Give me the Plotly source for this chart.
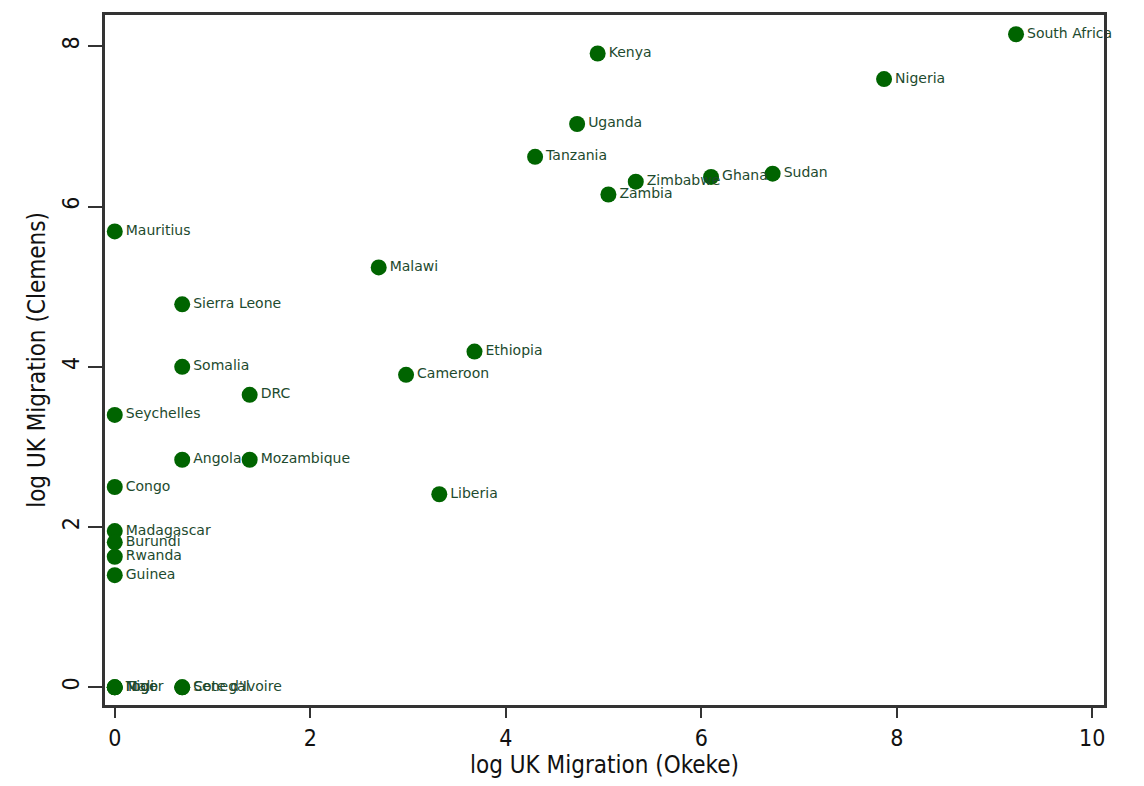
import plotly.graph_objects as go

# Log UK migration: Okeke (x) vs Clemens (y), by African country
countries = [
    "South Africa", "Kenya", "Nigeria", "Uganda", "Tanzania", "Zimbabwe", "Ghana",
    "Sudan", "Zambia", "Mauritius", "Malawi", "Sierra Leone", "Ethiopia", "Somalia",
    "Cameroon", "DRC", "Seychelles", "Angola", "Mozambique", "Congo", "Liberia",
    "Madagascar", "Burundi", "Rwanda", "Guinea", "Mali", "Niger", "Togo",
    "Cote d'Ivoire", "Senegal",
]
log_okeke = [
    9.22, 4.94, 7.87, 4.73, 4.30, 5.33, 6.10,
    6.73, 5.05, 0.0, 2.70, 0.69, 3.68, 0.69,
    2.98, 1.38, 0.0, 0.69, 1.38, 0.0, 3.32,
    0.0, 0.0, 0.0, 0.0, 0.0, 0.0, 0.0,
    0.69, 0.69,
]
log_clemens = [
    8.15, 7.91, 7.59, 7.03, 6.62, 6.31, 6.37,
    6.41, 6.15, 5.69, 5.24, 4.78, 4.19, 4.00,
    3.90, 3.65, 3.40, 2.84, 2.84, 2.50, 2.41,
    1.95, 1.81, 1.63, 1.40, 0.0, 0.0, 0.0,
    0.0, 0.0,
]

x_ticks = [0, 2, 4, 6, 8, 10]
y_ticks = [0, 2, 4, 6, 8]

marker_green = "#006400"
label_color = "#1d4a2e"
axis_color = "#333333"
font_family = "Liberation Sans Narrow, DejaVu Sans Condensed, Liberation Sans, sans-serif"

fig = go.Figure(
    go.Scatter(
        x=log_okeke,
        y=log_clemens,
        mode="markers+text",
        text=countries,
        textposition="middle right",
        textfont=dict(family="DejaVu Sans, sans-serif", size=14, color=label_color),
        marker=dict(size=16, color=marker_green, line=dict(width=0)),
        cliponaxis=False,
        hoverinfo="x+y+text",
    )
)

fig.update_layout(
    width=1144,
    height=786,
    margin=dict(l=105, r=40, t=12, b=81),
    paper_bgcolor="white",
    plot_bgcolor="white",
    showlegend=False,
    font=dict(family=font_family, color="#111111"),
)

fig.update_xaxes(
    range=[-0.1, 10.12],
    tickvals=x_ticks,
    ticktext=[str(v) for v in x_ticks],
    ticks="outside",
    ticklen=10,
    tickwidth=2,
    tickcolor=axis_color,
    tickfont=dict(size=23, family=font_family),
    showgrid=False,
    zeroline=False,
    showline=True,
    linecolor=axis_color,
    linewidth=3,
    mirror=True,
    title=dict(text="log UK Migration (Okeke)", font=dict(size=24, family=font_family), standoff=4),
)

fig.update_yaxes(
    range=[-0.22, 8.39],
    tickvals=y_ticks,
    ticktext=[str(v) for v in y_ticks],
    tickangle=-90,
    ticks="outside",
    ticklen=14,
    tickwidth=2,
    tickcolor=axis_color,
    tickfont=dict(size=23, family=font_family),
    showgrid=False,
    zeroline=False,
    showline=True,
    linecolor=axis_color,
    linewidth=3,
    mirror=True,
    title=dict(text="log UK Migration (Clemens)", font=dict(size=24, family=font_family), standoff=6),
)

fig.write_html("out.html")
